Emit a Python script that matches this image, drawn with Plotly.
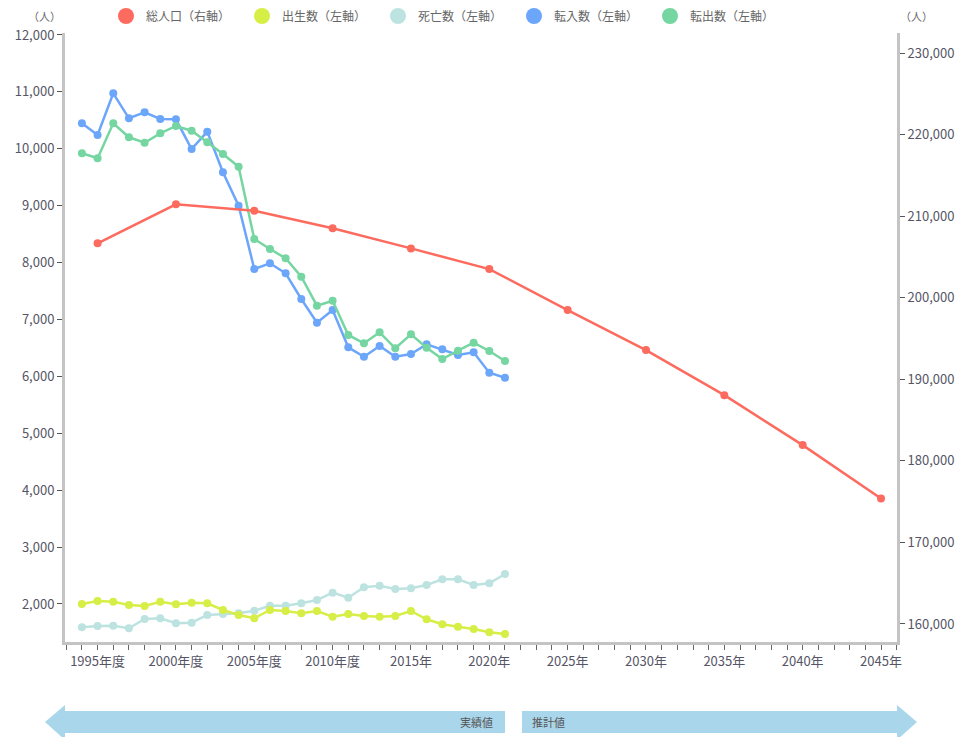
import plotly.graph_objects as go

# ---- data ----
years_actual = list(range(1994, 2022))
tennyu = [10448, 10243, 10975, 10536, 10641, 10524, 10518, 9996, 10301, 9587,
          9000, 7888, 7988, 7812, 7360, 6944, 7167, 6511, 6346, 6534,
          6346, 6394, 6564, 6476, 6376, 6424, 6065, 5977]
tenshutsu = [9921, 9833, 10448, 10202, 10107, 10272, 10401, 10318, 10114, 9909,
             9685, 8415, 8239, 8076, 7752, 7243, 7330, 6728, 6582, 6775,
             6494, 6740, 6504, 6306, 6452, 6592, 6446, 6271]
shussei = [2000, 2053, 2040, 1982, 1965, 2040, 1995, 2023, 2012, 1895,
           1807, 1749, 1895, 1877, 1837, 1877, 1777, 1824, 1789, 1777,
           1789, 1877, 1731, 1644, 1602, 1561, 1503, 1473]
shibou = [1591, 1613, 1619, 1573, 1736, 1749, 1661, 1672, 1807, 1824,
          1837, 1882, 1970, 1970, 2012, 2070, 2199, 2111, 2293, 2322,
          2264, 2276, 2334, 2434, 2434, 2334, 2364, 2527]
years_pop = [1995, 2000, 2005, 2010, 2015, 2020, 2025, 2030, 2035, 2040, 2045]
population = [206690, 211470, 210690, 208530, 206070, 203530,
              198500, 193600, 188070, 181940, 175400]

tick_years = [1995, 2000, 2005, 2010, 2015, 2020, 2025, 2030, 2035, 2040, 2045]
tick_labels = ["1995年度", "2000年度", "2005年度", "2010年度", "2015年", "2020年",
               "2025年", "2030年", "2035年", "2040年", "2045年"]
left_ticks = list(range(2000, 12001, 1000))
right_ticks = list(range(160000, 230001, 10000))

names = ["総人口（右軸）", "出生数（左軸）", "死亡数（左軸）", "転入数（左軸）", "転出数（左軸）"]
colors = ["#fd6b5f", "#d6ee45", "#bde3e1", "#6ca6fb", "#75d6a1"]

FONT = "Noto Sans CJK JP"

fig = go.Figure()

series = [
    (years_pop, population, "y2", colors[0]),
    (years_actual, shussei, "y", colors[1]),
    (years_actual, shibou, "y", colors[2]),
    (years_actual, tennyu, "y", colors[3]),
    (years_actual, tenshutsu, "y", colors[4]),
]
for idx in [2, 1, 3, 4, 0]:
    xs, ys, ax, c = series[idx]
    fig.add_trace(go.Scatter(
        x=xs, y=ys, yaxis=ax, mode="lines+markers",
        line=dict(color=c, width=2.5),
        marker=dict(color=c, size=8),
        showlegend=False, name=names[idx], hoverinfo="skip"))

# legend entries (circles only)
for n, c in zip(names, colors):
    fig.add_trace(go.Scatter(
        x=[None], y=[None], mode="markers", name=n,
        marker=dict(color=c, size=20), showlegend=True))

# page offset (body margin) and plot area geometry in page pixels
OFF = 8
W, H = 968 - OFF, 737 - OFF
L, R, T, B = 65, 897, 33, 642
PW, PH = R - L, B - T


def px(x):
    return (x - L) / PW


def py(y):
    return (B - y) / PH


shapes = []
arrow_color = "#aad6eb"
pts = [(45, 722), (65, 705), (65, 711), (505, 711), (505, 733), (65, 733), (65, 740)]
path = "M " + " L ".join(f"{px(a):.5f},{py(b):.5f}" for a, b in pts) + " Z"
shapes.append(dict(type="path", path=path, xref="paper", yref="paper",
                   fillcolor=arrow_color, line=dict(width=0), layer="above"))
pts = [(522, 711), (897, 711), (897, 705), (917, 722), (897, 740), (897, 733), (522, 733)]
path = "M " + " L ".join(f"{px(a):.5f},{py(b):.5f}" for a, b in pts) + " Z"
shapes.append(dict(type="path", path=path, xref="paper", yref="paper",
                   fillcolor=arrow_color, line=dict(width=0), layer="above"))

annotations = [
    dict(text="実績値", x=px(495), y=py(722), xref="paper", yref="paper",
         xanchor="right", yanchor="middle", showarrow=False,
         font=dict(size=11, color="#555", family=FONT)),
    dict(text="推計値", x=px(530), y=py(722), xref="paper", yref="paper",
         xanchor="left", yanchor="middle", showarrow=False,
         font=dict(size=11, color="#555", family=FONT)),
    dict(text="（人）", x=px(44), y=py(16), xref="paper", yref="paper",
         xanchor="center", yanchor="middle", showarrow=False,
         font=dict(size=11, color="#666", family=FONT)),
    dict(text="（人）", x=px(916), y=py(16), xref="paper", yref="paper",
         xanchor="center", yanchor="middle", showarrow=False,
         font=dict(size=11, color="#666", family=FONT)),
]

fig.update_layout(
    width=W, height=H,
    margin=dict(l=L - OFF, r=968 - R, t=T - OFF, b=737 - B, autoexpand=False),
    paper_bgcolor="white", plot_bgcolor="white",
    font=dict(family=FONT, size=12, color="#555"),
    shapes=shapes, annotations=annotations,
    legend=dict(orientation="h", x=px(106), y=py(16), xanchor="left", yanchor="middle",
                entrywidth=91, entrywidthmode="pixels",
                font=dict(size=12, color="#666", family=FONT),
                bgcolor="rgba(0,0,0,0)"),
    xaxis=dict(range=[1992.92, 2046.02], tickmode="array", tickvals=tick_years,
               ticktext=tick_labels, showgrid=False, zeroline=False, automargin=False,
               showline=True, linecolor="#c4c4c4", linewidth=3,
               ticks="outside", ticklen=5, tickcolor="#666", tickwidth=1,
               tickfont=dict(size=13, color="#556", family=FONT),
               minor=dict(tick0=1993, dtick=1, ticks="outside", ticklen=5,
                          tickcolor="#666", tickwidth=1, showgrid=False)),
    yaxis=dict(range=[1332, 12035], tickmode="array", tickvals=left_ticks,
               tickformat=",", showgrid=False, zeroline=False, automargin=False,
               showline=True, linecolor="#c4c4c4", linewidth=3,
               ticks="outside", ticklen=5, tickcolor="#555",
               tickfont=dict(size=13, color="#556", family=FONT)),
    yaxis2=dict(range=[157790, 232490], overlaying="y", side="right",
                tickmode="array", tickvals=right_ticks, tickformat=",",
                showgrid=False, zeroline=False, automargin=False,
                showline=True, linecolor="#c4c4c4", linewidth=3,
                ticks="outside", ticklen=5, tickcolor="#555",
                tickfont=dict(size=13, color="#556", family=FONT)),
)

fig.write_html("out.html")
